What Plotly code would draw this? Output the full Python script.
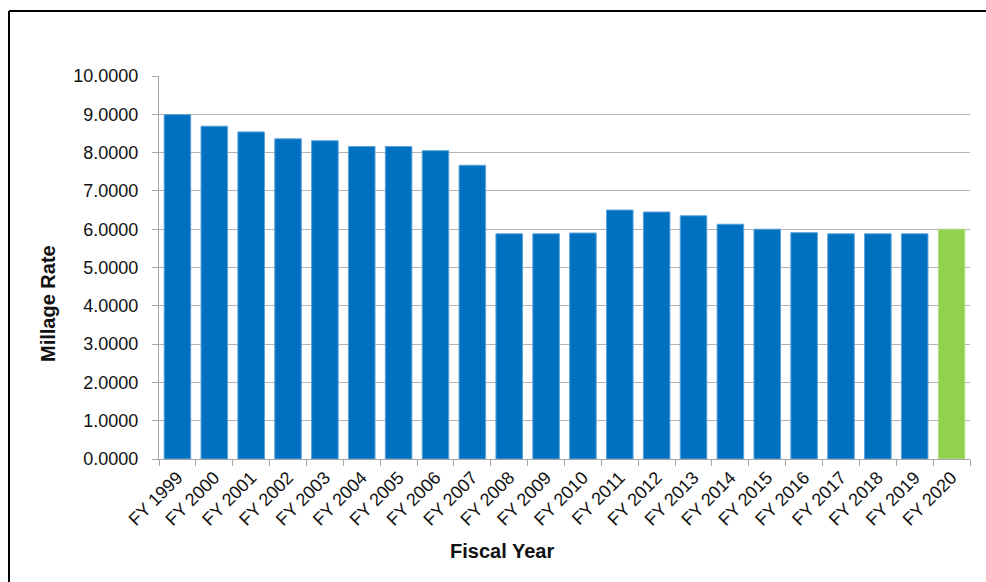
import plotly.graph_objects as go

years = ["FY 1999", "FY 2000", "FY 2001", "FY 2002", "FY 2003", "FY 2004", "FY 2005",
         "FY 2006", "FY 2007", "FY 2008", "FY 2009", "FY 2010", "FY 2011", "FY 2012",
         "FY 2013", "FY 2014", "FY 2015", "FY 2016", "FY 2017", "FY 2018", "FY 2019", "FY 2020"]
rates = [8.99, 8.69, 8.54, 8.36, 8.31, 8.16, 8.16, 8.05, 7.67, 5.88, 5.88, 5.90,
         6.50, 6.45, 6.35, 6.13, 6.00, 5.91, 5.88, 5.88, 5.88, 6.00]
bar_colors = ["#0070C0"] * 21 + ["#92D050"]
line_colors = ["#5BA3DA"] * 21 + ["#B5E08A"]

L, R, T, B = 159, 16, 76, 123
W, H = 986, 582
pw, ph = W - L - R, H - T - B

def px_x(px):
    return (px - L) / pw

def px_y(py):
    return (H - B - py) / ph

fig = go.Figure(go.Bar(
    x=years, y=rates,
    marker=dict(color=bar_colors, line=dict(color=line_colors, width=1)),
    width=0.72,
))

font = "Liberation Sans, Arial, sans-serif"
fig.update_layout(
    width=W, height=H,
    margin=dict(l=L, r=R, t=T, b=B),
    plot_bgcolor="white", paper_bgcolor="white",
    showlegend=False,
    font=dict(family=font, size=18, color="#111111"),
    bargap=0.28,
    xaxis=dict(
        tickangle=-45, showline=True, linecolor="#a6a6a6", linewidth=1,
        ticks="outside", tickson="boundaries", ticklen=6, tickcolor="#a6a6a6",
        showgrid=False, tickfont=dict(size=18, family=font), automargin=False,
    ),
    yaxis=dict(
        range=[0, 10], dtick=1, tickformat=".4f",
        showline=True, linecolor="#a6a6a6", linewidth=1,
        ticks="outside", ticklen=6, tickcolor="#a6a6a6",
        gridcolor="#b3b3b3", gridwidth=1, zeroline=False,
        tickfont=dict(size=18, family=font), ticklabelstandoff=10, automargin=False,
    ),
    annotations=[
        dict(text="<b>Millage Rate</b>", x=px_x(48), y=px_y(304), xref="paper", yref="paper",
             textangle=-90, showarrow=False, font=dict(size=20, family=font, color="#111111"),
             xanchor="center", yanchor="middle"),
        dict(text="<b>Fiscal Year</b>", x=px_x(502), y=px_y(551), xref="paper", yref="paper",
             showarrow=False, font=dict(size=20, family=font, color="#111111"),
             xanchor="center", yanchor="middle"),
    ],
    shapes=[
        dict(type="line", xref="paper", yref="paper", x0=px_x(9), x1=px_x(990),
             y0=px_y(11), y1=px_y(11), line=dict(color="black", width=2)),
        dict(type="line", xref="paper", yref="paper", x0=px_x(9), x1=px_x(9),
             y0=px_y(11), y1=px_y(590), line=dict(color="black", width=2)),
    ],
)

fig.write_html("out.html")
